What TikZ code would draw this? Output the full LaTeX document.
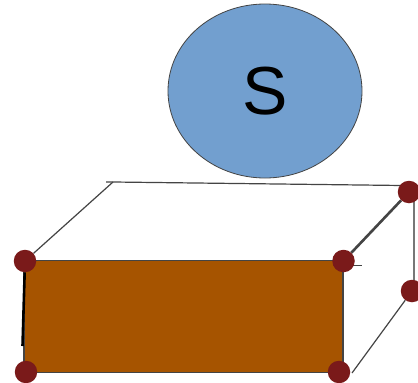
\documentclass[tikz,border=0pt]{standalone}
\usepackage{fontspec}
\usetikzlibrary{shapes.geometric}
\setmainfont{Liberation Sans}
\definecolor{dotred}{HTML}{7A1A1A}
\definecolor{brownfill}{HTML}{A65400}
\definecolor{bluefill}{HTML}{729FCF}
\definecolor{edgegray}{HTML}{444444}
\definecolor{lightedge}{HTML}{777777}
\tikzset{
  dot/.style={circle,fill=dotred,draw=none,minimum size=22.5pt,inner sep=0pt},
  edge/.style={draw=edgegray,line width=1.2pt},
  lightline/.style={draw=lightedge,line width=1.2pt},
  thickedge/.style={draw=edgegray,line width=2.6pt}
}
\pgfdeclarelayer{dots}
\pgfsetlayers{main,dots}
\begin{document}
\begin{tikzpicture}[x=1pt,y=-1pt]
\useasboundingbox (0,0) rectangle (418,383);
\fill[white] (0,0) rectangle (418,383);
\node[ellipse,draw=edgegray,line width=0.8pt,fill=bluefill,minimum width=194pt,minimum height=174pt,inner sep=0pt] (s) at (265,91) {\fontsize{68pt}{68pt}\selectfont S};
\coordinate (bl) at (113,182);
\coordinate (blstub) at (106,182);
\coordinate (topend) at (402,185.5);
\coordinate (leftend) at (22.5,346);
\coordinate (rtop) at (414,195);
\coordinate (rbot) at (414,285);
\coordinate (dstart) at (352,373);
\coordinate (cstub) at (349,265.5);
\coordinate (cstubend) at (362,265.5);
\node[draw=edgegray,line width=1.1pt,fill=brownfill,minimum width=319pt,minimum height=112pt,inner sep=0pt] (front) at (183.5,316.3) {};
\begin{pgfonlayer}{dots}
\node[dot] (a) at (25,261) {};
\node[dot] (b) at (26,372) {};
\node[dot] (c) at (343.5,261) {};
\node[dot] (d) at (339,372) {};
\node[dot] (e) at (409,192) {};
\node[dot] (f) at (412,291) {};
\end{pgfonlayer}
\draw[edge] (a) -- (bl);
\draw[edge] (blstub) -- (bl) -- (topend);
\draw[thickedge] (c) -- (e);
\draw[lightline] (rtop) -- (rbot);
\draw[edge] (dstart) -- (f);
\draw[edge] (cstub) -- (cstubend);
\draw[thickedge,draw=black] (a) -- (leftend);
\end{tikzpicture}
\end{document}
